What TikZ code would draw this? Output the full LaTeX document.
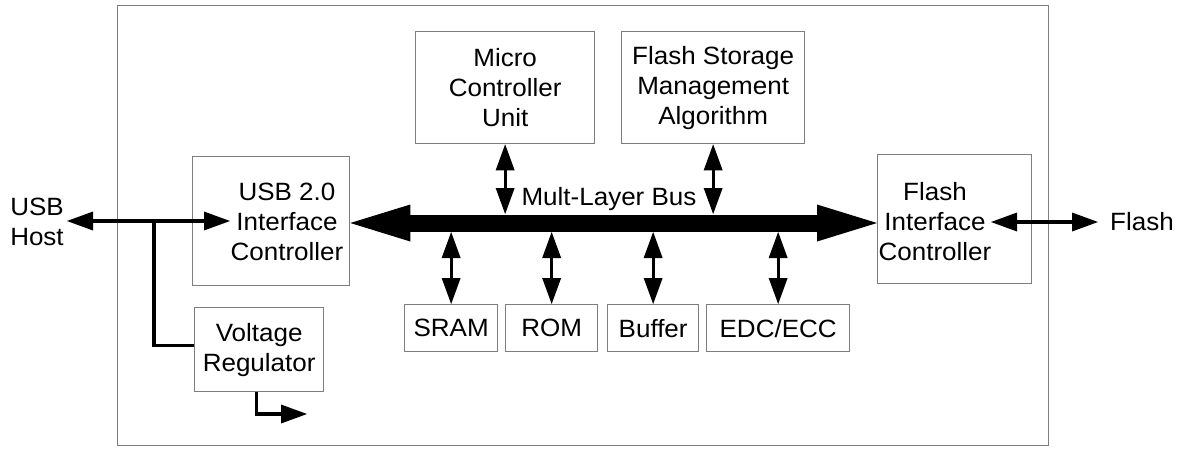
\documentclass[tikz,border=0pt]{standalone}
\usepackage{fontspec}
\setmainfont{Liberation Sans}[FakeStretch=1.04]
\usetikzlibrary{arrows.meta}
\definecolor{boxgray}{RGB}{125,125,125}
\tikzset{
  smalltip/.tip={Triangle[length=26pt,width=19pt,line width=0pt]},
  bustip/.tip={Triangle[length=60pt,width=37pt,line width=0pt]},
  box/.style={draw=boxgray,line width=1.3pt,inner sep=0pt,anchor=north west,
              align=center,font=\fontsize{25}{30}\selectfont},
  txt/.style={align=center,inner sep=0pt,font=\fontsize{25}{30}\selectfont},
  conn/.style={line width=3.2pt,line cap=butt,line join=miter},
}
\begin{document}
\begin{tikzpicture}[x=1pt,y=-1pt]
\path[use as bounding box] (0,0) rectangle (1183,448);
% outer chip frame
\node[box,minimum width=931pt,minimum height=440pt] (chip) at (117,5) {};
% blocks
\node[box,minimum width=157pt,minimum height=129pt] (usb) at (192,156) {};
\node[txt] (usbtxt) at (287,222) {USB 2.0\\Interface\\Controller};
\node[box,minimum width=129pt,minimum height=84pt] (vr) at (194,307) {Voltage\\Regulator};
\node[box,minimum width=179pt,minimum height=112pt] (mcu) at (415,31) {Micro\\Controller\\Unit};
\node[box,minimum width=183pt,minimum height=112pt] (fsm) at (621,31) {Flash Storage\\Management\\Algorithm};
\node[box,minimum width=154pt,minimum height=129pt] (fic) at (877,154) {};
\node[txt] (fictxt) at (935,222) {Flash\\Interface\\Controller};
\node[box,minimum width=93pt,minimum height=47pt] (sram) at (404,304) {SRAM};
\node[box,minimum width=92pt,minimum height=47pt] (rom) at (505,304) {ROM};
\node[box,minimum width=91pt,minimum height=47pt] (buf) at (607,304) {Buffer};
\node[box,minimum width=143pt,minimum height=47pt] (edc) at (706,304) {EDC/ECC};
% outside labels
\node[txt] (host) at (37,222) {USB\\Host};
\node[txt] (flash) at (1142,222) {Flash};
\node[txt] (buslbl) at (609,199) {Mult-Layer Bus};
% coordinates
\coordinate (busy) at (0,223);
\coordinate (bustop) at (0,214);
\coordinate (busbot) at (0,232);
\coordinate (hostend) at (67,221);
\coordinate (usbin) at (230,221);
\coordinate (j) at (154,221);
\coordinate (vrout) at (307,414);
\coordinate (ficin) at (991,222);
\coordinate (flashout) at (1098,222);
% bus
\draw[line width=17pt,bustip-bustip] (usb.east |- busy) -- (fic.west |- busy);
% bus taps
\draw[conn,smalltip-smalltip] (mcu.south) -- (mcu.south |- bustop);
\draw[conn,smalltip-smalltip] (fsm.south) -- (fsm.south |- bustop);
\draw[conn,smalltip-smalltip] (sram.north |- busbot) -- (sram.north);
\draw[conn,smalltip-smalltip] (rom.north |- busbot) -- (rom.north);
\draw[conn,smalltip-smalltip] (buf.north |- busbot) -- (buf.north);
\draw[conn,smalltip-smalltip] (edc.north |- busbot) -- (edc.north);
% USB host link
\draw[conn,smalltip-smalltip] (hostend) -- (usbin);
\draw[conn] (j) |- ([yshift=4pt]vr.west);
\draw[conn,-smalltip] ([xshift=-2.5pt]vr.south) |- (vrout);
% flash link
\draw[conn,smalltip-smalltip] (ficin) -- (flashout);
\end{tikzpicture}
\end{document}
